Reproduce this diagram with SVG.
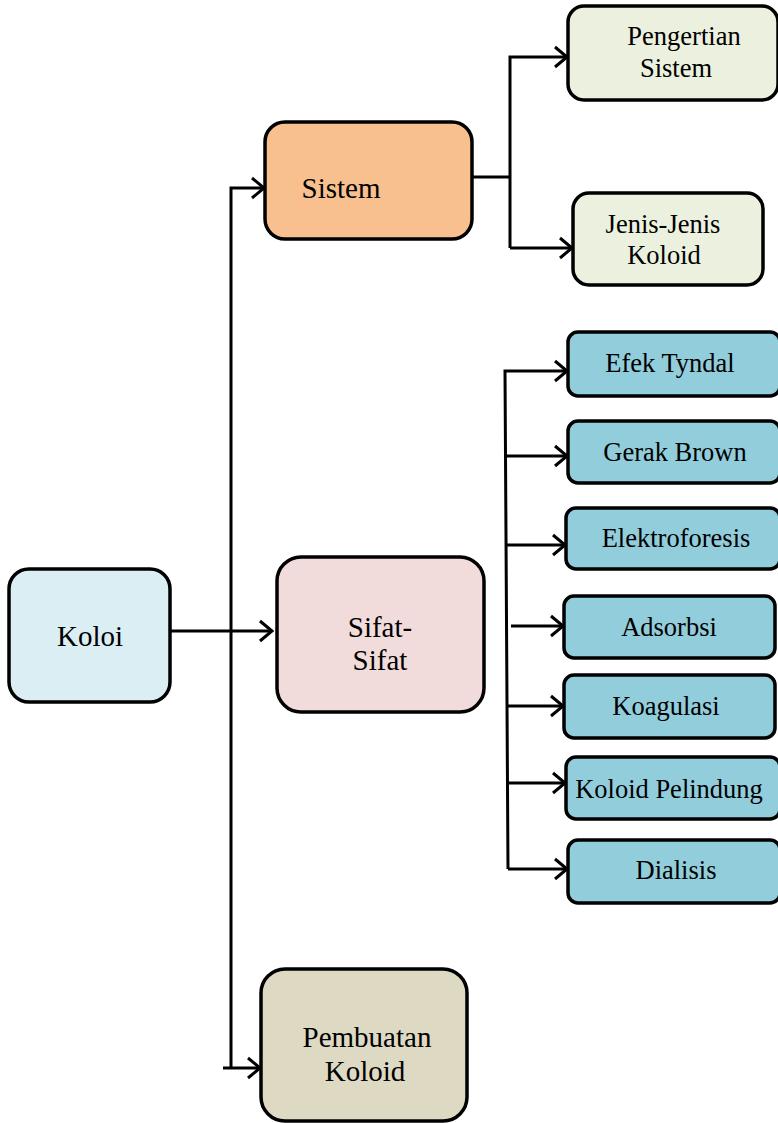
<svg xmlns="http://www.w3.org/2000/svg" width="778" height="1123" viewBox="0 0 778 1123">
<defs>
<style>
.box{stroke:#000;stroke-width:3.5}
.t{font-family:"Liberation Serif","Times New Roman",serif;font-size:26.5px;fill:#000;text-anchor:middle}
.b{font-size:29px}
.c{fill:none;stroke:#000;stroke-width:3}
</style>
<marker id="ah" markerUnits="userSpaceOnUse" markerWidth="18" markerHeight="24" refX="15" refY="12" orient="auto">
<path d="M3,2 L15,12 L3,22" fill="none" stroke="#000" stroke-width="3"/>
</marker>
</defs>
<rect width="778" height="1123" fill="#fff"/>
<g id="connectors">
<path class="c" d="M167,631 L272,631" marker-end="url(#ah)"/>
<path class="c" d="M231,1068 L231,188 L264,188" marker-end="url(#ah)"/>
<path class="c" d="M223,1068 L260,1068" marker-end="url(#ah)"/>
<path class="c" d="M472,177 L510,177"/>
<path class="c" d="M510,248 L510,57 L567,57" marker-end="url(#ah)"/>
<path class="c" d="M510,248 L572,248" marker-end="url(#ah)"/>
<path class="c" d="M508,869 L505,371 L567,371" marker-end="url(#ah)"/>
<path class="c" d="M506,456 L567,456" marker-end="url(#ah)"/>
<path class="c" d="M507,545 L565,545" marker-end="url(#ah)"/>
<path class="c" d="M511,626 L563,626" marker-end="url(#ah)"/>
<path class="c" d="M507,706 L563,706" marker-end="url(#ah)"/>
<path class="c" d="M508,783 L565,783" marker-end="url(#ah)"/>
<path class="c" d="M508,869 L567,869" marker-end="url(#ah)"/>
</g>
<g id="koloi"><rect class="box" x="9" y="569" width="161" height="133" rx="20" fill="#DBEEF4"/><text class="t b" x="90" y="646">Koloi</text></g>
<g id="sistem"><rect class="box" x="265" y="122" width="207" height="117" rx="20" fill="#F8C08F"/><text class="t b" x="341" y="198">Sistem</text></g>
<g id="pengertian"><rect class="box" x="568" y="6" width="210" height="94" rx="16" fill="#EBF1DE"/><text class="t" x="684" y="45">Pengertian</text><text class="t" x="676" y="77">Sistem</text></g>
<g id="jenis"><rect class="box" x="573" y="193" width="190" height="92" rx="16" fill="#EBF1DE"/><text class="t" x="663" y="233">Jenis-Jenis</text><text class="t" x="664" y="264">Koloid</text></g>
<g id="sifat"><rect class="box" x="277" y="557" width="207" height="155" rx="24" fill="#F2DCDB"/><text class="t b" x="380" y="637">Sifat-</text><text class="t b" x="380" y="670">Sifat</text></g>
<g id="pembuatan"><rect class="box" x="261" y="969" width="206" height="152" rx="24" fill="#DDD9C3"/><text class="t b" x="367" y="1047">Pembuatan</text><text class="t b" x="365" y="1081">Koloid</text></g>
<g id="efek"><rect class="box" x="568" y="332" width="212" height="64" rx="10" fill="#92CDDC"/><text class="t" x="670" y="372">Efek Tyndal</text></g>
<g id="gerak"><rect class="box" x="568" y="421" width="212" height="62" rx="10" fill="#92CDDC"/><text class="t" x="675" y="461">Gerak Brown</text></g>
<g id="elektro"><rect class="box" x="566" y="508" width="214" height="61" rx="10" fill="#92CDDC"/><text class="t" x="676" y="547">Elektroforesis</text></g>
<g id="adsorbsi"><rect class="box" x="564" y="596" width="211" height="62" rx="10" fill="#92CDDC"/><text class="t" x="669" y="636">Adsorbsi</text></g>
<g id="koagulasi"><rect class="box" x="564" y="675" width="211" height="63" rx="10" fill="#92CDDC"/><text class="t" x="666" y="715">Koagulasi</text></g>
<g id="pelindung"><rect class="box" x="566" y="757" width="214" height="62" rx="10" fill="#92CDDC"/><text class="t" x="669" y="798">Koloid Pelindung</text></g>
<g id="dialisis"><rect class="box" x="568" y="840" width="212" height="63" rx="10" fill="#92CDDC"/><text class="t" x="676" y="879">Dialisis</text></g>
</svg>
